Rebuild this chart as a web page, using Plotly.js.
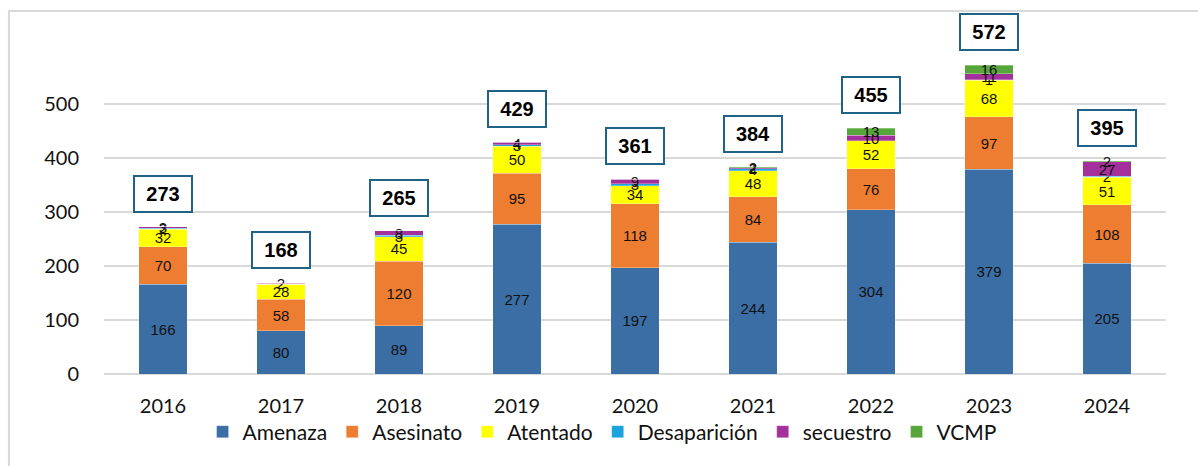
<!DOCTYPE html>
<html>
<head>
<meta charset="utf-8">
<script src="https://cdn.plot.ly/plotly-3.0.1.min.js"></script>
<style>
  html, body { margin: 0; padding: 0; background: #ffffff; }
  #chart { width: 1198px; height: 466px; }
</style>
</head>
<body>
<div id="chart"></div>
<script>
const years = ['2016', '2017', '2018', '2019', '2020', '2021', '2022', '2023', '2024'];
const amenaza      = [166, 80, 89, 277, 197, 244, 304, 379, 205];
const asesinato    = [70, 58, 120, 95, 118, 84, 76, 97, 108];
const atentado     = [32, 28, 45, 50, 34, 48, 52, 68, 51];
const desaparicion = [2, 0, 3, 3, 3, 4, 0, 1, 2];
const secuestro    = [3, 2, 8, 4, 9, 2, 10, 11, 27];
const vcmp         = [0, 0, 0, 0, 0, 2, 13, 16, 2];
const totals       = [273, 168, 265, 429, 361, 384, 455, 572, 395];

const seriesNames  = ['Amenaza', 'Asesinato', 'Atentado', 'Desaparición', 'secuestro', 'VCMP'];
const seriesValues = [amenaza, asesinato, atentado, desaparicion, secuestro, vcmp];
const seriesColors = ['#3A6EA5', '#ED7D31', '#FFFF00', '#1AA3DC', '#A3309B', '#56A63A'];

const traces = seriesNames.map((name, i) => ({
  type: 'bar',
  name: name,
  x: years,
  y: seriesValues[i],
  text: seriesValues[i].map(v => v > 0 ? String(v) : ''),
  textposition: 'inside',
  insidetextanchor: 'middle',
  textangle: 0,
  constraintext: 'none',
  cliponaxis: false,
  insidetextfont: { family: 'Liberation Sans, Arial, sans-serif', size: 15, color: '#111111' },
  marker: { color: seriesColors[i], line: { color: 'rgba(255,255,255,0.5)', width: 0.6 } }
}));

// category index is used so numeric-looking year strings are not read as positions
const totalAnnotations = years.map((yr, i) => ({
  x: i,
  y: totals[i],
  xref: 'x',
  yref: 'y',
  text: '<b>' + totals[i] + '</b>',
  showarrow: false,
  yshift: 33,
  font: { family: 'Liberation Sans, Arial, sans-serif', size: 20, color: '#000000' },
  bgcolor: '#ffffff',
  bordercolor: '#1F6386',
  borderwidth: 2,
  borderpad: 5,
  width: 46,
  height: 24
}));

const layout = {
  width: 1198,
  height: 466,
  margin: { l: 104, r: 32, t: 50, b: 92 },
  paper_bgcolor: '#ffffff',
  plot_bgcolor: '#ffffff',
  barmode: 'stack',
  bargap: 0.59,
  showlegend: true,
  legend: {
    orientation: 'h',
    x: 0.469,
    xanchor: 'center',
    y: -0.179,
    yanchor: 'middle',
    bgcolor: 'rgba(0,0,0,0)',
    font: { family: 'Lato, Open Sans, sans-serif', size: 21, color: '#111111' },
    traceorder: 'normal'
  },
  xaxis: {
    type: 'category',
    categoryorder: 'array',
    categoryarray: years,
    range: [-0.5, 8.5],
    tickfont: { family: 'Lato, Open Sans, sans-serif', size: 20, color: '#111111' },
    showgrid: false,
    zeroline: false,
    showline: false,
    ticks: 'outside',
    ticklen: 14,
    tickcolor: 'rgba(0,0,0,0)'
  },
  yaxis: {
    range: [0, 600],
    tickvals: [0, 100, 200, 300, 400, 500],
    tickfont: { family: 'Lato, Open Sans, sans-serif', size: 20, color: '#111111' },
    showgrid: true,
    gridcolor: '#D9D9D9',
    gridwidth: 2,
    zeroline: true,
    zerolinecolor: '#D9D9D9',
    zerolinewidth: 2,
    showline: false,
    ticks: 'outside',
    ticklen: 20,
    tickcolor: 'rgba(0,0,0,0)'
  },
  annotations: totalAnnotations,
  shapes: [{
    type: 'rect',
    xref: 'paper', yref: 'paper',
    x0: -0.0895, x1: 1.1,
    y0: -0.4, y1: 1.1205,
    line: { color: '#D9D9D9', width: 2 },
    fillcolor: 'rgba(0,0,0,0)',
    layer: 'below'
  }]
};

Plotly.newPlot('chart', traces, layout, { displayModeBar: false });
</script>
</body>
</html>
